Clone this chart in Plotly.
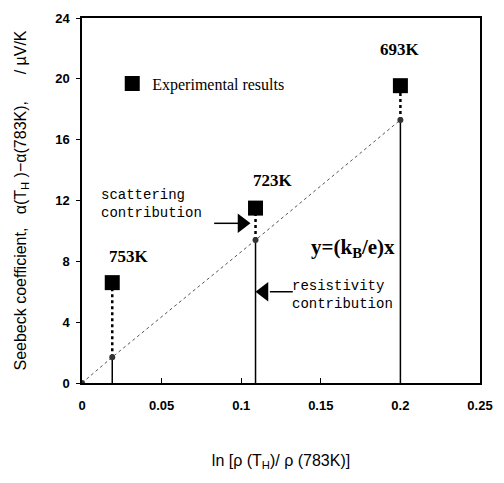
import plotly.graph_objects as go

# ---- data ----
temps = ["753K", "723K", "693K"]
x_ln = [0.019, 0.109, 0.200]           # ln[rho(TH)/rho(783K)]
exp_seebeck = [6.6, 11.5, 19.55]       # experimental results, uV/K
resist_seebeck = [1.7, 9.4, 17.3]      # resistivity contribution (on y=(kB/e)x)

x_ticks = [0, 0.05, 0.1, 0.15, 0.2, 0.25]
x_tick_text = ["0", "0.05", "0.1", "0.15", "0.2", "0.25"]
y_ticks = [0, 4, 8, 12, 16, 20, 24]

# label placement (layout, not data)
label_dx = [0.0106, 0.011, 0.0]
label_y = [8.3, 13.3, 21.9]

fig = go.Figure()

# diagonal line y=(kB/e)x through origin
fig.add_trace(go.Scatter(
    x=[0] + x_ln, y=[0] + resist_seebeck, mode="lines",
    line=dict(color="#555", width=1, dash="dot"), showlegend=False, hoverinfo="skip"))

for xv, ev, rv in zip(x_ln, exp_seebeck, resist_seebeck):
    # resistivity contribution: solid from 0
    fig.add_trace(go.Scatter(x=[xv, xv], y=[0, rv], mode="lines",
                             line=dict(color="black", width=1.5),
                             showlegend=False, hoverinfo="skip"))
    # scattering contribution: dotted
    fig.add_trace(go.Scatter(x=[xv, xv], y=[rv, ev], mode="lines",
                             line=dict(color="black", width=2.5, dash="dot"),
                             showlegend=False, hoverinfo="skip"))

# small points on the line
fig.add_trace(go.Scatter(x=[0] + x_ln, y=[0] + resist_seebeck, mode="markers",
                         marker=dict(symbol="circle", size=6, color="#333"),
                         showlegend=False, hoverinfo="skip"))

# experimental results
fig.add_trace(go.Scatter(x=x_ln, y=exp_seebeck, mode="markers",
                         name="Experimental results",
                         marker=dict(symbol="square", size=15, color="black")))

# arrows (drawn as line + triangular head)
fig.add_trace(go.Scatter(x=[0.083, 0.099], y=[10.5, 10.5], mode="lines",
                         line=dict(color="black", width=1.5),
                         showlegend=False, hoverinfo="skip"))
fig.add_trace(go.Scatter(x=[0.1005], y=[10.5], mode="markers",
                         marker=dict(symbol="triangle-right", size=17, color="black"),
                         showlegend=False, hoverinfo="skip"))
fig.add_trace(go.Scatter(x=[0.1324, 0.118], y=[6.0, 6.0], mode="lines",
                         line=dict(color="black", width=1.5),
                         showlegend=False, hoverinfo="skip"))
fig.add_trace(go.Scatter(x=[0.1143], y=[6.0], mode="markers",
                         marker=dict(symbol="triangle-left", size=17, color="black"),
                         showlegend=False, hoverinfo="skip"))

ann_font = dict(family="Liberation Serif", size=17, color="black", weight="bold")
for xv, t, dx, ly in zip(x_ln, temps, label_dx, label_y):
    fig.add_annotation(x=xv + dx, y=ly, text=t, showarrow=False, font=ann_font)

mono = dict(family="Liberation Mono", size=14, color="black")
fig.add_annotation(x=0.0105, y=11.8, text="scattering<br>contribution", showarrow=False,
                   xanchor="left", align="left", font=mono)
fig.add_annotation(x=0.1305, y=5.8, text="resistivity<br>contribution", showarrow=False,
                   xanchor="left", align="left", font=mono)
fig.add_annotation(x=0.1705, y=8.9, text="y=(k<sub>B</sub>/e)x", showarrow=False,
                   font=dict(family="Liberation Serif", size=21, color="black", weight="bold"))

tick_font = dict(family="Liberation Sans", size=13, color="black", weight="bold")
fig.update_xaxes(range=[0, 0.25], tickvals=x_ticks, ticktext=x_tick_text,
                 showgrid=False, zeroline=False, showline=True, linecolor="black",
                 linewidth=1.5, mirror=True, ticks="inside", ticklen=5,
                 tickcolor="black", tickfont=tick_font, ticklabelstandoff=10,
                 title=dict(text="ln [ρ (T<sub>H</sub>)/ ρ (783K)]", standoff=42,
                            font=dict(family="Liberation Sans", size=16, color="black")))
fig.update_yaxes(range=[0, 24], tickvals=y_ticks,
                 showgrid=False, zeroline=False, showline=True, linecolor="black",
                 linewidth=1.5, mirror=True, ticks="outside", ticklen=4,
                 tickcolor="black", tickfont=tick_font, ticklabelstandoff=4,
                 title=dict(text="Seebeck coefficient,   α(T<sub>H</sub> )−α(783K),      / µV/K",
                            standoff=25,
                            font=dict(family="Liberation Sans", size=16, color="black")))

fig.update_layout(
    width=504, height=483,
    margin=dict(l=82, r=16, t=11, b=100),
    paper_bgcolor="white", plot_bgcolor="white",
    showlegend=True,
    legend=dict(x=0.076, y=0.82, xanchor="left", yanchor="middle",
                bgcolor="rgba(0,0,0,0)",
                font=dict(family="Liberation Serif", size=16, color="black")),
)

fig.write_html("out.html")
